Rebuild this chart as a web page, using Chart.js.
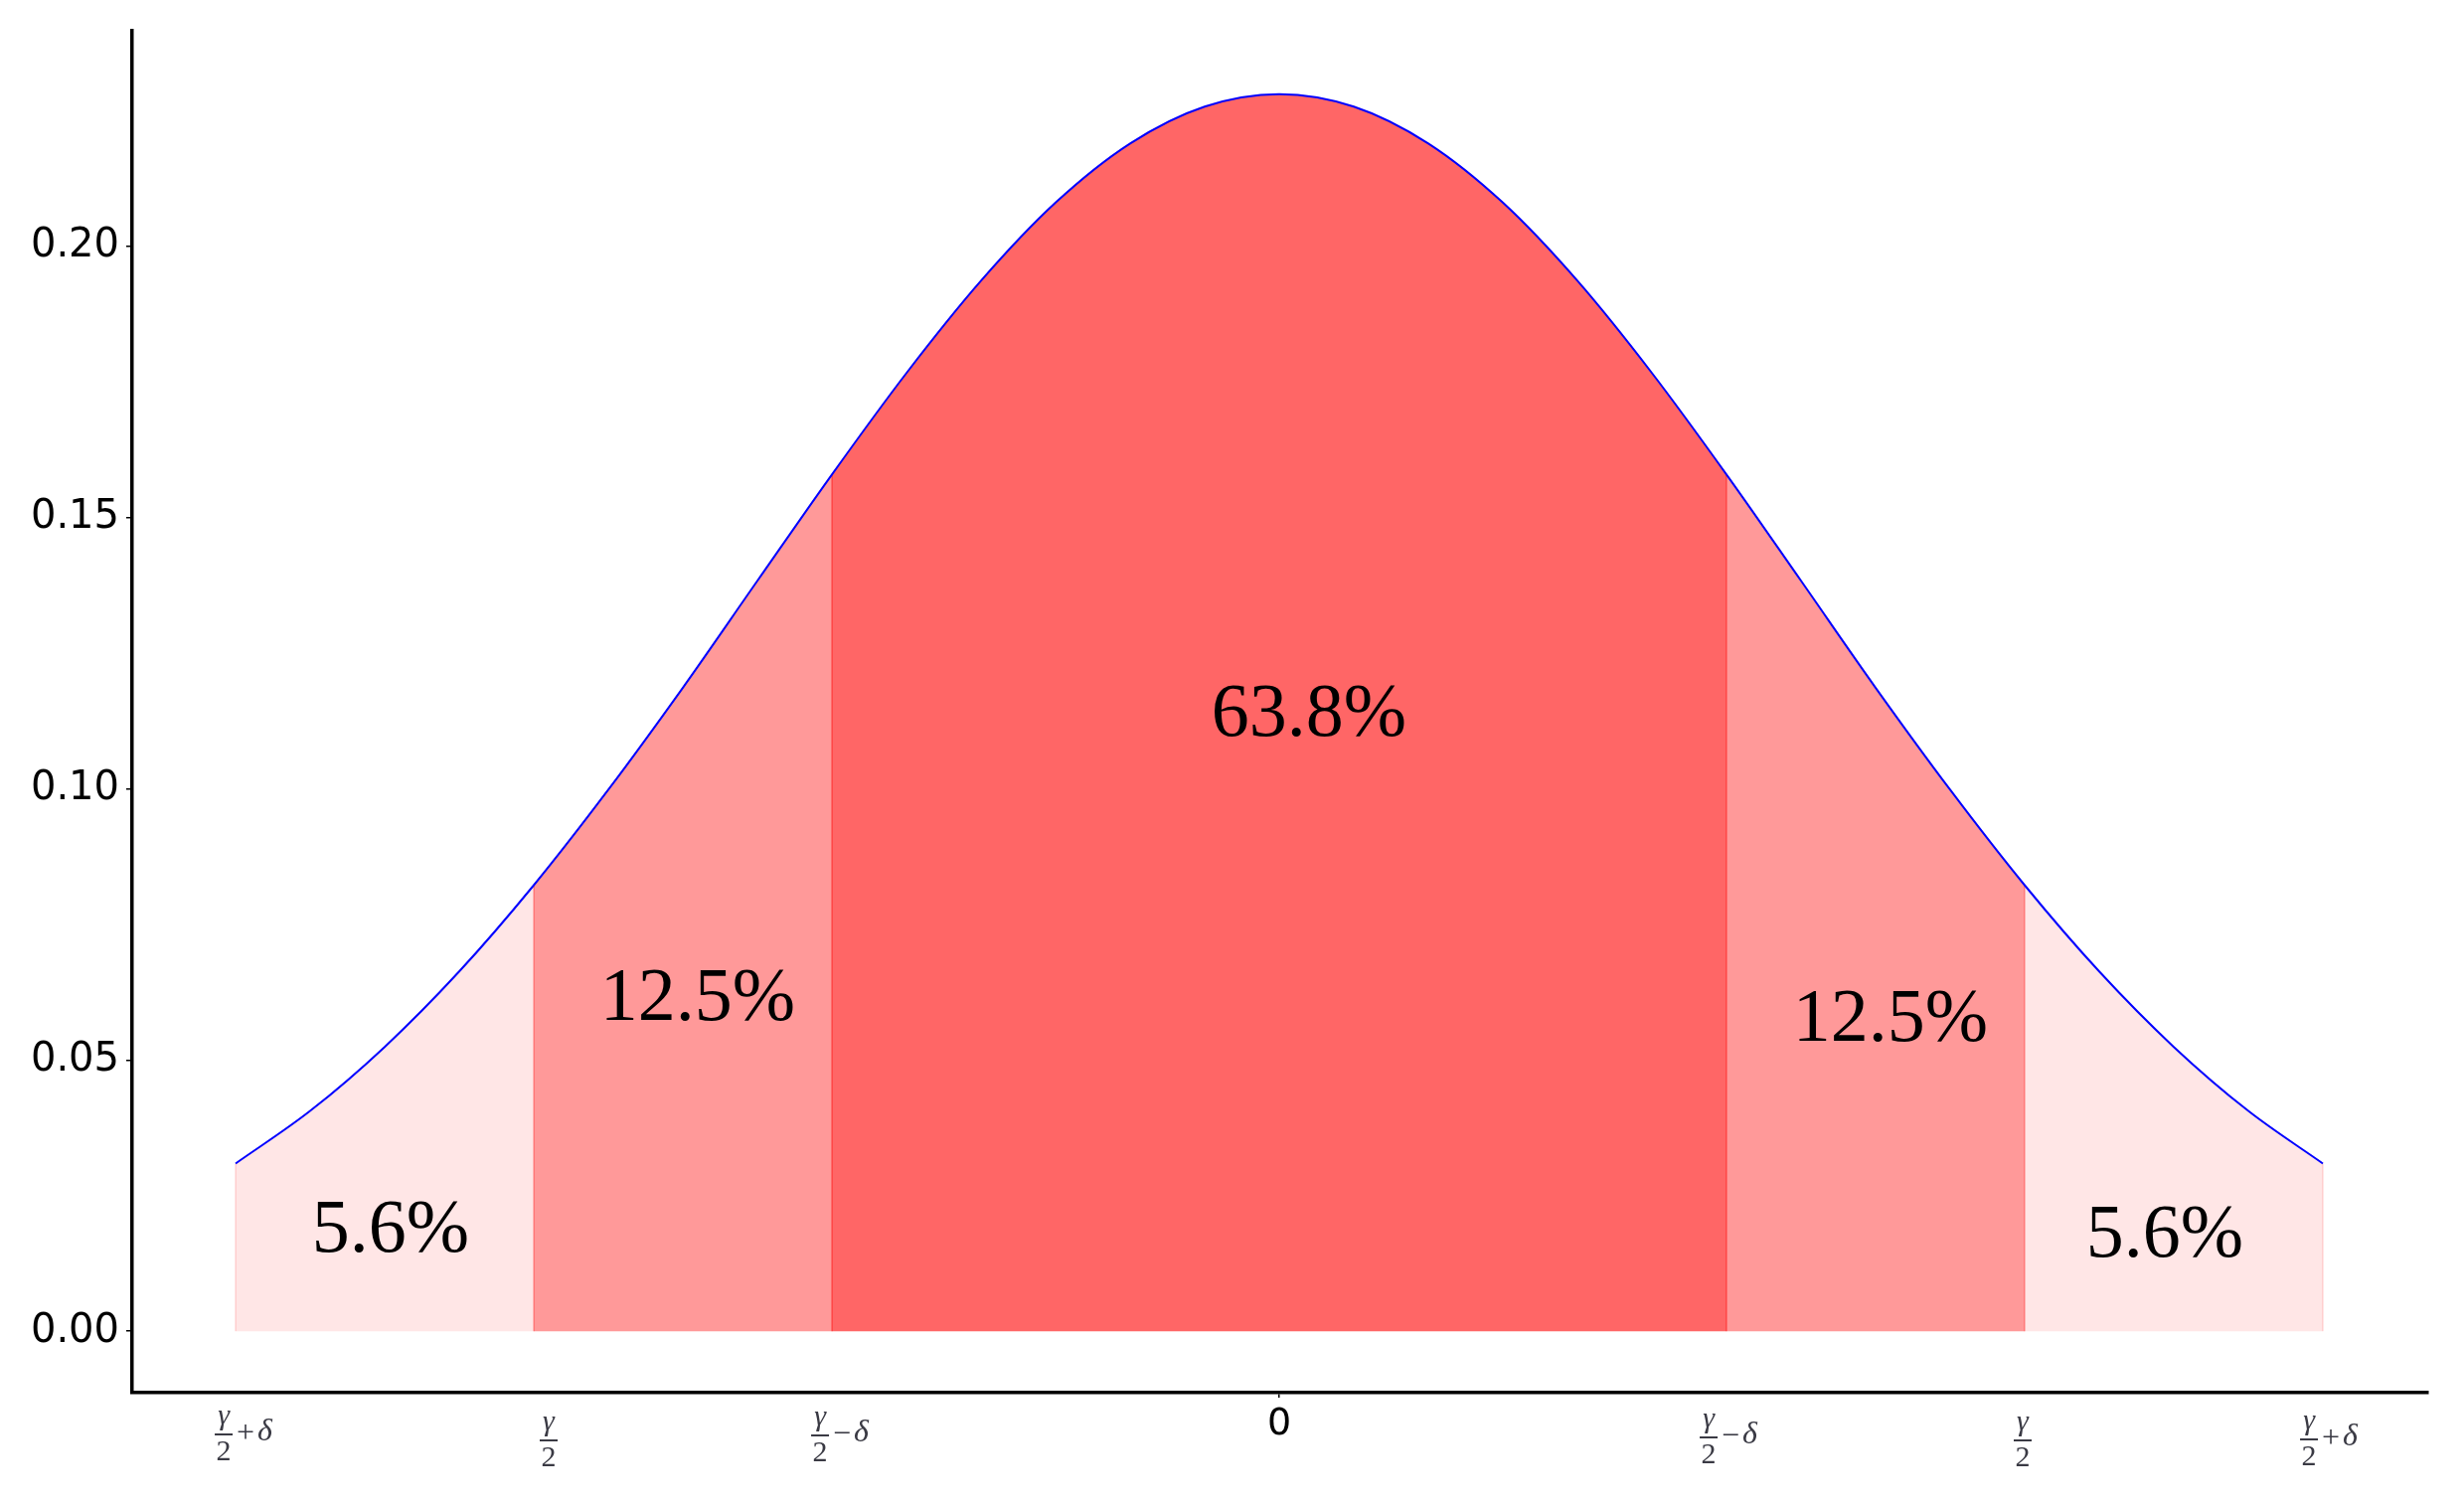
<!DOCTYPE html>
<html>
<head>
<meta charset="utf-8">
<script src="https://cdn.jsdelivr.net/npm/chart.js@4/dist/chart.umd.min.js"></script>
<style>
  html, body { margin: 0; padding: 0; background: #ffffff; }
  #c { display: block; }
</style>
</head>
<body>
<canvas id="c" width="2479" height="1516" style="width:2479px;height:1516px"></canvas>
<script>
// ---- data ----
const xValues = [-3.5, -3.25, -3.0, -2.75, -2.5, -2.25, -2.0, -1.75, -1.5, -1.25, -1.0, -0.75, -0.5, -0.25,
                 0, 0.25, 0.5, 0.75, 1.0, 1.25, 1.5, 1.75, 2.0, 2.25, 2.5, 2.75, 3.0, 3.25, 3.5];
const densityValues = [0.0309, 0.0406, 0.0524, 0.0663, 0.0822, 0.0998, 0.1186, 0.1383, 0.1579, 0.1766, 0.1936, 0.2080, 0.2189, 0.2257,
                       0.2280, 0.2257, 0.2189, 0.2080, 0.1936, 0.1766, 0.1579, 0.1383, 0.1186, 0.0998, 0.0822, 0.0663, 0.0524, 0.0406, 0.0309];
const regionBounds = [-3.5, -2.5, -1.5, 1.5, 2.5, 3.5];
const regionShares = ['5.6%', '12.5%', '63.8%', '12.5%', '5.6%'];
const yTickValues = [0, 0.05, 0.10, 0.15, 0.20];
const xTickValues = [-3.5, -2.5, -1.5, 0, 1.5, 2.5, 3.5];
const xTickLabels = ['γ/2+δ', 'γ/2', 'γ/2−δ', '0', 'γ/2−δ', 'γ/2', 'γ/2+δ'];

// ---- styling / placement (not data) ----
const regionColors = ['#FFE6E6', '#FF9999', '#FF6666', '#FF9999', '#FFE6E6'];
const boundaryColors = ['rgba(255,0,0,0.10)', 'rgba(255,0,0,0.22)', 'rgba(255,0,0,0.30)', 'rgba(255,0,0,0.30)', 'rgba(255,0,0,0.22)', 'rgba(255,0,0,0.10)'];
const shareAnchors = [
  { x: -2.98, y: 0.0183 }, { x: -1.95, y: 0.0610 }, { x: 0.10, y: 0.1135 },
  { x: 2.05, y: 0.0572 }, { x: 2.97, y: 0.0175 }
];
const fractionBarY = [1443, 1449, 1444, 0, 1446, 1449, 1448];
const fractionShiftX = [8, 15, 8, 0, 2, -2, 6];

// ---- build datasets ----
const curvePoints = xValues.map((x, i) => ({ x: x, y: densityValues[i] }));
const datasets = [];
datasets.push({
  label: 'density', data: curvePoints, borderColor: '#0000FF', borderWidth: 2,
  pointRadius: 0, fill: false, cubicInterpolationMode: 'monotone', order: 0
});
regionBounds.forEach((b, i) => {
  const idx = xValues.indexOf(b);
  datasets.push({
    label: 'edge' + i, data: [{ x: b, y: 0 }, { x: b, y: densityValues[idx] }],
    borderColor: boundaryColors[i], borderWidth: 2, pointRadius: 0, fill: false, order: 1
  });
});
for (let i = 0; i < regionShares.length; i++) {
  const lo = regionBounds[i], hi = regionBounds[i + 1];
  datasets.push({
    label: 'region' + i,
    data: curvePoints.filter(p => p.x >= lo - 1e-9 && p.x <= hi + 1e-9),
    backgroundColor: regionColors[i], borderWidth: 0, borderColor: 'rgba(0,0,0,0)',
    pointRadius: 0, fill: 'origin', cubicInterpolationMode: 'monotone', order: 2
  });
}

const sharePlugin = {
  id: 'shareLabels',
  afterDatasetsDraw(chart) {
    const ctx = chart.ctx, xs = chart.scales.x, ys = chart.scales.y;
    ctx.save();
    ctx.font = '76px "Liberation Serif"';
    ctx.fillStyle = '#000';
    ctx.textAlign = 'center';
    ctx.textBaseline = 'middle';
    regionShares.forEach((t, i) => {
      ctx.fillText(t, xs.getPixelForValue(shareAnchors[i].x), ys.getPixelForValue(shareAnchors[i].y));
    });
    ctx.restore();
  }
};

const fractionPlugin = {
  id: 'fractionTicks',
  afterDraw(chart) {
    const ctx = chart.ctx, xs = chart.scales.x;
    ctx.save();
    const col = '#3a3a44';
    ctx.fillStyle = col;
    ctx.strokeStyle = col;
    xTickLabels.forEach((lab, i) => {
      if (lab.indexOf('/') < 0) return;
      const num = lab.split('/')[0];
      const rest = lab.split('/')[1];
      const den = rest.charAt(0);
      const tail = rest.slice(1);
      const italic = 'italic 30px "Liberation Serif"';
      const upright = '30px "Liberation Serif"';
      const tailUp = '32px "Liberation Serif"';
      const tailIt = 'italic 32px "Liberation Serif"';
      ctx.font = italic;
      const wn = ctx.measureText(num).width;
      ctx.font = upright;
      const wd = ctx.measureText(den).width;
      const w = Math.max(wn, wd) + 3;
      let tw = 0, op = '', sym = '';
      if (tail) {
        op = tail.charAt(0); sym = tail.slice(1);
        ctx.font = tailUp; tw += ctx.measureText(op).width + 3;
        ctx.font = tailIt; tw += ctx.measureText(sym).width;
      }
      const total = w + (tail ? 4 + tw : 0);
      const px = xs.getPixelForValue(xTickValues[i]) + fractionShiftX[i];
      const sx = px - total / 2;
      const by = fractionBarY[i];
      ctx.lineWidth = 2;
      ctx.beginPath();
      ctx.moveTo(sx, by); ctx.lineTo(sx + w, by);
      ctx.stroke();
      ctx.textAlign = 'center';
      ctx.textBaseline = 'alphabetic';
      ctx.font = italic;
      ctx.fillText(num, sx + w / 2, by - 10);
      ctx.font = upright;
      ctx.fillText(den, sx + w / 2, by + 26);
      if (tail) {
        ctx.textAlign = 'left';
        ctx.textBaseline = 'middle';
        let cx = sx + w + 4;
        ctx.font = tailUp;
        ctx.fillText(op, cx, by);
        cx += ctx.measureText(op).width + 3;
        ctx.font = tailIt;
        ctx.fillText(sym, cx, by - 2);
      }
    });
    ctx.restore();
  }
};

new Chart(document.getElementById('c'), {
  type: 'line',
  data: { datasets: datasets },
  plugins: [sharePlugin, fractionPlugin],
  options: {
    responsive: false,
    devicePixelRatio: 1,
    animation: false,
    layout: { padding: { top: 28, right: 36, left: 0, bottom: 0 } },
    plugins: { legend: { display: false }, tooltip: { enabled: false } },
    elements: { line: { tension: 0 } },
    scales: {
      x: {
        type: 'linear', min: -3.8467, max: 3.8533,
        afterBuildTicks: s => { s.ticks = xTickValues.map(v => ({ value: v })); },
        afterFit: s => { s.height = 115; },
        grid: {
          drawOnChartArea: false, tickLength: 5, lineWidth: 1.5,
          color: c => (c.tick && c.tick.value === 0) ? '#000' : 'rgba(0,0,0,0)'
        },
        border: { display: true, color: '#000', width: 3.5 },
        ticks: {
          autoSkip: false, maxRotation: 0, minRotation: 0, padding: 4,
          color: '#000', font: { family: 'DejaVu Sans', size: 38 },
          callback: (v) => { const i = xTickValues.indexOf(v); return (i >= 0 && xTickLabels[i].indexOf('/') < 0) ? xTickLabels[i] : ''; }
        }
      },
      y: {
        type: 'linear', min: -0.01133, max: 0.23967,
        afterBuildTicks: s => { s.ticks = yTickValues.map(v => ({ value: v })); },
        afterFit: s => { s.width = 133; },
        grid: { drawOnChartArea: false, tickLength: 6, lineWidth: 1.5, color: '#000' },
        border: { display: true, color: '#000', width: 3.5 },
        ticks: {
          padding: 7, color: '#000', font: { family: 'DejaVu Sans', size: 40 },
          callback: v => Number(v).toFixed(2)
        }
      }
    }
  }
});
</script>
</body>
</html>
